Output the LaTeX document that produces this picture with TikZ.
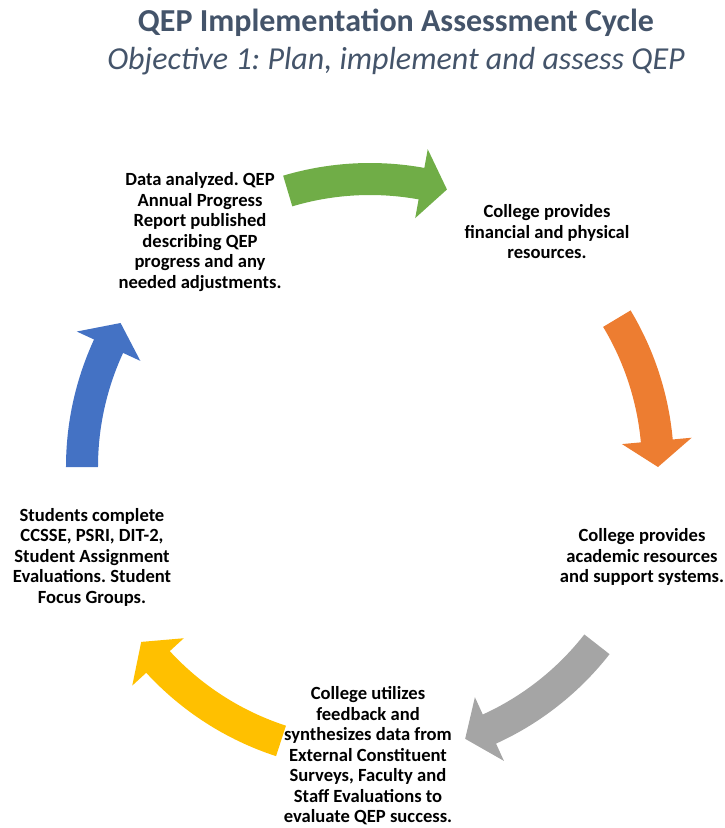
\documentclass[tikz,border=0pt]{standalone}
\usepackage{fontspec}
\setmainfont{Carlito}
\frenchspacing
\definecolor{titlec}{HTML}{44546A}
\definecolor{cgreen}{HTML}{70AD47}
\definecolor{corange}{HTML}{ED7D31}
\definecolor{cgray}{HTML}{A5A5A5}
\definecolor{cyellow}{HTML}{FFC000}
\definecolor{cblue}{HTML}{4472C4}
\newcommand\cycarrow[3]{%
  \fill[#1] ({#2}:{\R+\W}) arc[start angle={#2}, end angle={#3+5.2}, radius={\R+\W}]
    -- ({#3+5.2}:{\R+\H}) -- ({#3}:{\R}) -- ({#3+5.2}:{\R-\H})
    -- ({#3+5.2}:{\R-\W}) arc[start angle={#3+5.2}, end angle={#2}, radius={\R-\W}] -- cycle;}
\def\R{288}
\def\W{16}
\def\H{35}
\begin{document}
\begin{tikzpicture}[x=1pt,y=1pt,
  lbl/.style={align=center, font=\fontsize{18.6}{20.5}\selectfont\bfseries\frenchspacing, inner sep=0pt}]
\useasboundingbox (-370,-361) rectangle (354,467);
\node[font=\fontsize{32}{36}\selectfont\bfseries, text=titlec] (title) at (26,444) {QEP Implementation Assessment Cycle};
\node[font=\fontsize{32}{36}\selectfont\itshape, text=titlec] (sub) at (26,406) {Objective 1: Plan, implement and assess QEP};
\cycarrow{cgreen}{106.6}{74.5}
\cycarrow{corange}{31}{0}
\cycarrow{cgray}{-38}{-70.7}
\cycarrow{cyellow}{-108}{-142.6}
\cycarrow{cblue}{180}{150}
\node[lbl] (t1) at (-170,235) {Data analyzed. QEP\\Annual Progress\\Report published\\describing QEP\\progress and any\\needed adjustments.};
\node[lbl] (t2) at (177,235) {College provides\\financial and physical\\resources.};
\node[lbl] (t3) at (272,-90) {College provides\\academic resources\\and support systems.};
\node[lbl] (t4) at (-2,-289) {College utilizes\\feedback and\\synthesizes data from\\External Constituent\\Surveys, Faculty and\\Staff Evaluations to\\evaluate QEP success.};
\node[lbl] (t5) at (-278,-90) {Students complete\\CCSSE, PSRI, DIT-2,\\Student Assignment\\Evaluations. Student\\Focus Groups.};
\end{tikzpicture}
\end{document}
